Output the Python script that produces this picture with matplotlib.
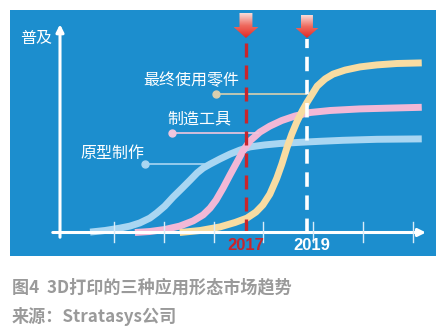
import numpy as np
import matplotlib
matplotlib.use('Agg')
from matplotlib import pyplot as plt
from matplotlib.patches import Polygon
from matplotlib.colors import LinearSegmentedColormap

plt.rcParams['font.family'] = ['Noto Sans CJK SC', 'DejaVu Sans']

# curve points (x: time, y: adoption)
blue_x = [5.2, 8.2, 11.2, 13.2, 15.2, 17.2, 18.6, 20.2, 21.9, 23.7, 25.3, 26.7, 27.9, 29.3, 31.3,
          33.3, 35.3, 37.3, 40.3, 43.3, 47.4, 51.4, 56.0, 62.8, 71.8]
blue_y = [0.2, 1.0, 2.2, 3.2, 4.8, 7.2, 9.8, 13.2, 17.8, 22.2, 26.2, 29.8, 32.2, 34.2, 36.8,
          39.2, 41.2, 42.8, 43.8, 44.5, 45.1, 45.6, 46.1, 46.6, 46.8]
pink_x = [14.2, 17.2, 20.2, 23.2, 25.9, 27.9, 29.3, 30.5, 31.9, 33.3, 34.7, 35.9, 37.3, 39.3,
          41.3, 43.7, 46.3, 49.4, 53.4, 59.4, 65.4, 71.8]
pink_y = [0, 0.5, 1.5, 3.2, 5.8, 8.8, 12.2, 16.2, 22.2, 28.8, 35.2, 40.8, 45.8, 50.2,
          53.2, 56.0, 58.2, 60.0, 61.0, 61.8, 62.2, 62.6]
yellow_x = [23.2, 27.3, 31.3, 34.3, 36.7, 38.5, 39.9, 41.3, 42.7, 43.7, 44.7, 45.7, 46.7, 47.8,
            48.8, 49.8, 50.8, 52.4, 54.0, 56.4, 59.4, 62.8, 66.8, 71.8]
yellow_y = [0, 1.0, 2.8, 5.0, 7.2, 10.2, 13.8, 19.2, 27.2, 34.2, 42.2, 49.2, 55.2, 60.8,
            65.2, 69.2, 73.2, 76.8, 79.2, 81.2, 82.8, 83.8, 84.5, 84.8]

series_names = ['原型制作', '制造工具', '最终使用零件']
series_colors = ['#a9d6f2', '#f2b8d6', '#f8dca2']
leader_colors = ['#a9d6f2', '#f0c6de', '#d9cfae']
label_pos = [(9.7, 39.5), (27.1, 56.8), (25.5, 75.8)]
leader_start = [(16.25, 34.25), (21.65, 49.75), (30.5, 69.25)]
leader_end_x = [28.0, 38.9, 48.5]

tick_x = [10, 20, 30, 40, 50, 60, 70]
year_x = [36.5, 48.75]
year_labels = ['2017', '2019']
year_label_x = [36.5, 49.7]
year_colors = ['#c8252c', 'white']

bg = '#1c8ece'

fig = plt.figure(figsize=(4.45, 3.32), dpi=100)
ax = fig.add_axes([10/445, 1 - 256/332, 426/445, 246/332])
ax.set_facecolor(bg)
ax.set_xticks([])
ax.set_yticks([])
for s in ax.spines.values():
    s.set_visible(False)

# curves
for xs, ys, c, z in [(blue_x, blue_y, series_colors[0], 3),
                     (pink_x, pink_y, series_colors[1], 4),
                     (yellow_x, yellow_y, series_colors[2], 5)]:
    ax.plot(xs, ys, color=c, lw=5, solid_joinstyle='round', solid_capstyle='butt', zorder=z)

# axes arrows
ax.annotate('', xy=(-0.84, 105.5), xytext=(-0.84, -3.75),
            arrowprops=dict(arrowstyle='-|>', color='white', lw=2.2, mutation_scale=11), zorder=8)
ax.annotate('', xy=(73.2, 0), xytext=(-2.85, 0),
            arrowprops=dict(arrowstyle='-|>', color='white', lw=2.2, mutation_scale=11), zorder=8)
for tx in tick_x:
    ax.plot([tx, tx], [-4.75, 5.25], color='#d8ecf8', lw=1.0, zorder=8)

# year markers
ax.plot([year_x[0]] * 2, [0, 97], color=year_colors[0], lw=2.4, ls=(0, (4.2, 2.4)), zorder=7)
ax.plot([year_x[1]] * 2, [0, 97], color='white', lw=2.6, ls=(0, (4.0, 2.4)), zorder=7)
for lx, lab, c in zip(year_label_x, year_labels, year_colors):
    ax.text(lx, -6.5, lab, color=c, fontsize=12, fontweight='bold', ha='center', va='center',
            family=['Liberation Sans Narrow', 'Liberation Sans', 'DejaVu Sans'], zorder=9)

# gradient arrows at top
grad = np.linspace(0, 1, 64).reshape(-1, 1)
cmap = LinearSegmentedColormap.from_list('arr', ['#f9dcd8', '#ef6a5e', '#e02a26'])
for cx, hw, sw, top, neck in [(year_x[0], 2.5, 1.3, 109.75, 102.75), (year_x[1], 2.3, 1.2, 108.75, 102.25)]:
    tip = 97.25
    pts = [(cx - sw, top), (cx + sw, top), (cx + sw, neck), (cx + hw, neck),
           (cx, tip), (cx - hw, neck), (cx - sw, neck)]
    poly = Polygon(pts, closed=True, facecolor='none', edgecolor='none')
    ax.add_patch(poly)
    im = ax.imshow(grad, cmap=cmap, extent=(cx - hw, cx + hw, tip, top), origin='upper',
                   aspect='auto', zorder=9)
    im.set_clip_path(poly)

# labels and leaders
for name, (lx, ly), (sx, sy), ex, lc in zip(series_names, label_pos, leader_start, leader_end_x, leader_colors):
    ax.text(lx, ly, name, color='white', fontsize=11.5, ha='center', va='center', zorder=9)
    ax.plot([sx, ex], [sy, sy], color=lc, lw=1.2, zorder=6)
    ax.plot([sx], [sy], 'o', color=lc, ms=5, zorder=6)

ax.text(-5.66, 96.75, '普及', color='white', fontsize=11.5, ha='center', va='center')

ax.set_xlim(-10.88, 74.66)
ax.set_ylim(-11.75, 111.25)

fig.text(12/445, 1 - 287/332, '图4  3D打印的三种应用形态市场趋势', color='#9a9a9a',
         fontsize=12.3, fontweight='bold', ha='left', va='center')
fig.text(12/445, 1 - 316/332, '来源：Stratasys公司', color='#9a9a9a',
         fontsize=12.3, fontweight='bold', ha='left', va='center')

fig.savefig('out.png', dpi=100, facecolor='white')
